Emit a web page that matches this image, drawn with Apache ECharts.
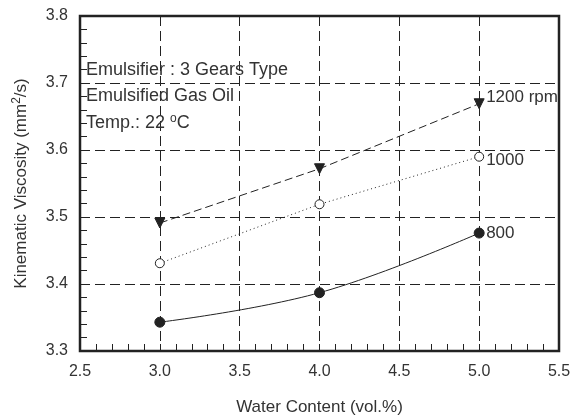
<!DOCTYPE html>
<html>
<head>
<meta charset="utf-8">
<script src="https://cdn.jsdelivr.net/npm/echarts@6/dist/echarts.min.js"></script>
<style>
  html, body { margin: 0; padding: 0; background: #fff; }
  #chart { width: 571px; height: 416px; }
</style>
</head>
<body>
<div id="chart"></div>
<script>
const FONT = "'Liberation Sans Narrow', 'Arial Narrow', 'Liberation Sans', Arial, sans-serif";

const waterContent = [3.0, 4.0, 5.0];
const rpm1200 = [3.491, 3.572, 3.669];
const rpm1000 = [3.431, 3.519, 3.590];
const rpm800 = [3.343, 3.387, 3.476];
const seriesLabels = ['1200 rpm', '1000', '800'];
const notes = ['Emulsifier : 3 Gears Type', 'Emulsified Gas Oil', 'Temp.: 22 {sup|o}C'];

const toPairs = (values) => waterContent.map((x, i) => [x, values[i]]);

const chart = echarts.init(document.getElementById('chart'));

const makeSeries = (name, values, opts) => ({
  name,
  type: 'line',
  data: toPairs(values),
  smooth: opts.smooth || false,
  symbol: opts.symbol,
  symbolSize: opts.size,
  symbolRotate: opts.rotate || 0,
  lineStyle: { color: '#222', width: 1, type: opts.lineType },
  itemStyle: { color: opts.fill, borderColor: '#222', borderWidth: 1 },
  endLabel: {
    show: true,
    formatter: name,
    color: '#333',
    fontFamily: FONT,
    fontSize: 17,
    distance: 7,
    offset: opts.labelOffset,
  },
  z: 5,
});

const tickStyle = { show: true, inside: true, length: 7, lineStyle: { color: '#222' } };

const option = {
  animation: false,
  grid: {
    left: 80, right: 12, top: 16, bottom: 65,
    outerBoundsMode: 'none',
    containLabel: false,
    show: true, borderColor: '#222', borderWidth: 2.5,
  },
  xAxis: {
    type: 'value',
    min: 2.5, max: 5.5, interval: 0.5,
    name: 'Water Content (vol.%)',
    nameLocation: 'middle', nameGap: 48,
    nameTextStyle: { fontFamily: FONT, fontSize: 17, color: '#333' },
    axisLine: { show: false },
    axisTick: tickStyle,
    minorTick: { show: true, splitNumber: 5, length: 7, lineStyle: { color: '#222' } },
    axisLabel: {
      fontFamily: FONT, fontSize: 16, color: '#333', margin: 13,
      formatter: (v) => v.toFixed(1),
    },
    splitLine: { show: true, lineStyle: { color: '#222', type: [10, 5], width: 1 } },
  },
  yAxis: {
    type: 'value',
    min: 3.3, max: 3.8, interval: 0.1,
    name: 'Kinematic Viscosity (mm{sup|2}/s)',
    nameLocation: 'middle', nameGap: 49,
    nameTextStyle: {
      fontFamily: FONT, fontSize: 17, color: '#333',
      rich: { sup: { fontFamily: FONT, fontSize: 12, color: '#333', verticalAlign: 'top', padding: [0, 0, 8, 0] } },
    },
    axisLine: { show: false },
    axisTick: tickStyle,
    minorTick: { show: true, splitNumber: 5, length: 7, lineStyle: { color: '#222' } },
    axisLabel: {
      fontFamily: FONT, fontSize: 16, color: '#333', margin: 12,
      formatter: (v) => v.toFixed(1),
    },
    splitLine: { show: true, lineStyle: { color: '#222', type: [10, 5], width: 1 } },
  },
  graphic: notes.map((t, i) => ({
    type: 'text',
    left: 86,
    top: 61 + i * 26,
    z: 10,
    style: {
      text: t,
      fill: '#333',
      font: '18px ' + FONT,
      rich: { sup: { font: '12px ' + FONT, fill: '#333', padding: [0, 0, 9, 0] } },
    },
  })),
  series: [
    makeSeries(seriesLabels[0], rpm1200, {
      symbol: 'triangle', size: 10, rotate: 180, fill: '#222', lineType: [8, 4], labelOffset: [0, -6],
    }),
    makeSeries(seriesLabels[1], rpm1000, {
      symbol: 'circle', size: 9, fill: '#fff', lineType: [1, 3], labelOffset: [0, 4],
    }),
    makeSeries(seriesLabels[2], rpm800, {
      symbol: 'circle', size: 10, fill: '#222', lineType: 'solid', smooth: 0.4, labelOffset: [0, 0],
    }),
  ],
};

chart.setOption(option);
</script>
</body>
</html>
